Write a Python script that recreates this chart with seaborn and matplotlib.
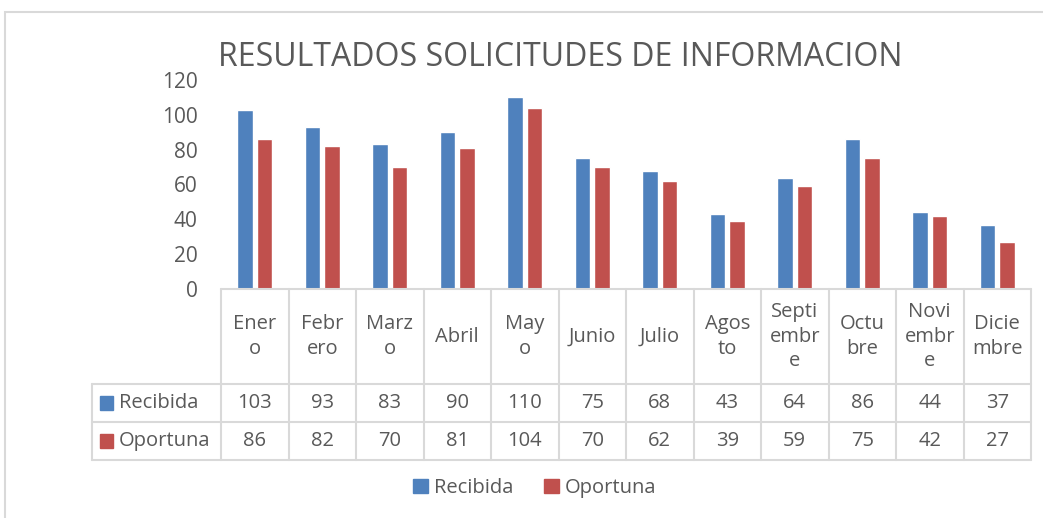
import numpy as np
import pandas as pd
import matplotlib
matplotlib.use("Agg")
import matplotlib.pyplot as plt
import matplotlib.transforms as mtransforms
from matplotlib.patches import Rectangle
from matplotlib.lines import Line2D
import seaborn as sns

# data
meses = ["Enero", "Febrero", "Marzo", "Abril", "Mayo", "Junio", "Julio",
         "Agosto", "Septiembre", "Octubre", "Noviembre", "Diciembre"]
# column headers as wrapped in the table
meses_tabla = ["Ener\no", "Febr\nero", "Marz\no", "Abril", "May\no", "Junio", "Julio",
               "Agos\nto", "Septi\nembr\ne", "Octu\nbre", "Novi\nembr\ne", "Dicie\nmbre"]
recibida = [103, 93, 83, 90, 110, 75, 68, 43, 64, 86, 44, 37]
oportuna = [86, 82, 70, 81, 104, 70, 62, 39, 59, 75, 42, 27]
series = ["Recibida", "Oportuna"]
colores = ["#4F81BD", "#C0504D"]

df = pd.DataFrame({
    "mes": meses * 2,
    "serie": ["Recibida"] * 12 + ["Oportuna"] * 12,
    "valor": recibida + oportuna,
})

sns.set_style("white")
plt.rcParams["font.family"] = ["Open Sans", "DejaVu Sans"]
txt = "#595959"
grid = "#D9D9D9"
fs = 14.5

W, H = 1043, 518
fig = plt.figure(figsize=(W / 100, H / 100), dpi=100)

def fx(px):
    return px / W

def fy(py):
    return 1 - py / H

x0, x1, ytop, ybot = 221, 1031, 80, 289
ax = fig.add_axes([fx(x0), fy(ybot), fx(x1) - fx(x0), fy(ytop) - fy(ybot)])

sns.barplot(data=df, x="mes", y="valor", hue="serie", hue_order=series,
            palette=colores, saturation=1, width=0.58, gap=0.2, ax=ax, legend=True)

ax.set_ylim(0, 120)
ax.set_yticks(range(0, 121, 20))
ax.set_xlim(-0.5, 11.5)
ax.set_xticks([])
ax.set_xlabel("")
ax.set_ylabel("")
ax.tick_params(axis="y", length=0, pad=17, labelsize=15, labelcolor=txt)
for s in ax.spines.values():
    s.set_visible(False)
ax.get_legend().remove()

# data table below the plot
tr = mtransforms.blended_transform_factory(ax.transData, fig.transFigure)
rows_y = [289, 384, 422, 460]
left_px = 92
for i in range(13):
    xb = i - 0.5
    ax.add_line(Line2D([xb, xb], [fy(289), fy(460)], transform=tr,
                       color=grid, lw=1.5, clip_on=False))
for yy in rows_y:
    xs = [fx(left_px), fx(x1)] if yy > 289 else [fx(x0), fx(x1)]
    fig.add_artist(Line2D(xs, [fy(yy), fy(yy)], color=grid, lw=1.5))
fig.add_artist(Line2D([fx(left_px), fx(left_px)], [fy(384), fy(460)], color=grid, lw=1.5))

for i, lab in enumerate(meses_tabla):
    ax.text(i, fy(336.5), lab, transform=tr, ha="center", va="center",
            fontsize=fs, color=txt, linespacing=1.3)
    ax.text(i, fy(403), str(recibida[i]), transform=tr, ha="center", va="center",
            fontsize=fs, color=txt)
    ax.text(i, fy(441), str(oportuna[i]), transform=tr, ha="center", va="center",
            fontsize=fs, color=txt)

for yc, name, col in [(403, series[0], colores[0]), (441, series[1], colores[1])]:
    fig.add_artist(Rectangle((fx(100), fy(yc + 7)), fx(13), 14 / H, color=col))
    fig.text(fx(119), fy(yc), name, ha="left", va="center", fontsize=fs, color=txt)

# legend
handles = [Rectangle((0, 0), 1, 1, color=c) for c in colores]
fig.legend(handles, series, loc="center", bbox_to_anchor=(fx(535), fy(488)),
           ncol=2, frameon=False, fontsize=fs, labelcolor=txt,
           handlelength=0.75, handleheight=0.75, handletextpad=0.3, columnspacing=1.5)

fig.text(fx(560), fy(57), "RESULTADOS SOLICITUDES DE INFORMACION",
         ha="center", va="center", fontsize=23, color=txt)

# chart border
fig.add_artist(Rectangle((fx(5), -0.1), 1.2, fy(12) + 0.1, fill=False,
                         edgecolor=grid, lw=1.5))

fig.savefig("out.png", dpi=100)
